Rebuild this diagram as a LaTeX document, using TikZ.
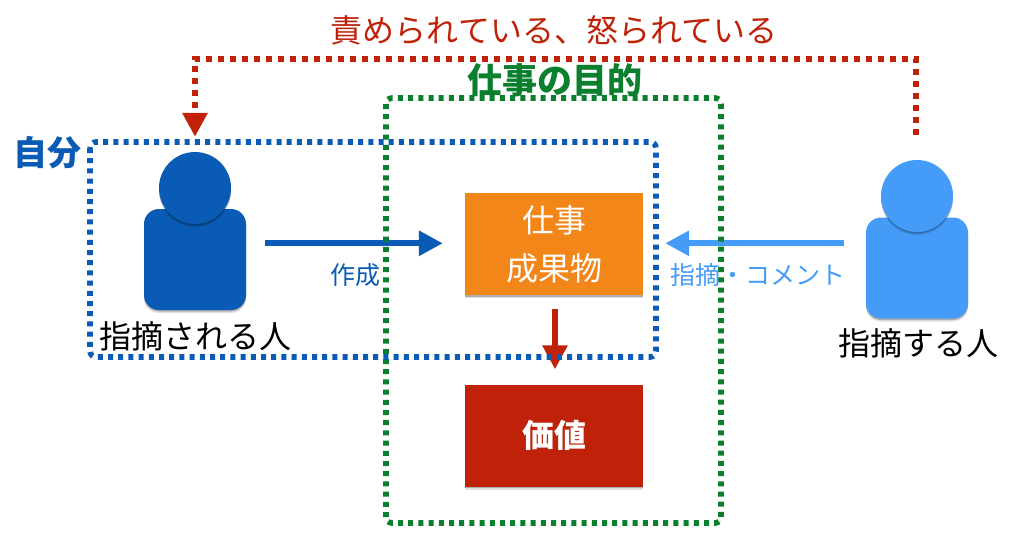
\documentclass[tikz,border=0pt]{standalone}
\usepackage{fontspec}
\usetikzlibrary{arrows.meta,shadows,positioning,calc}
\setmainfont{Noto Sans CJK JP}
\definecolor{cred}{HTML}{BF2209}
\definecolor{cblue}{HTML}{0A5BB5}
\definecolor{clight}{HTML}{459CF8}
\definecolor{cgreen}{HTML}{0A7F2E}
\definecolor{corange}{HTML}{F28618}
\newcommand{\fs}[1]{\fontsize{#1}{#1}\selectfont}
\tikzset{
  softshadow/.style={
    drop shadow={shadow xshift=0pt,shadow yshift=-3pt,opacity=.12,fill=black},
    drop shadow={shadow xshift=0pt,shadow yshift=-1.5pt,opacity=.22,fill=black}},
  workbox/.style={rectangle,minimum width=178pt,minimum height=102pt,inner sep=0pt,text=white,align=center,softshadow},
  personbody/.style={rectangle,rounded corners=15pt,minimum width=102pt,minimum height=101pt,inner sep=0pt,softshadow},
  personhead/.style={circle,minimum size=72pt,inner sep=0pt,softshadow},
  flow/.style={line width=6pt,-{Triangle[length=24pt,width=24pt]}},
  dotbox/.style={line width=5.6pt,rounded corners=6pt,dash pattern=on 5pt off 5.2pt,
    preaction={draw=black,draw opacity=.10,transform canvas={yshift=-2.5pt}}},
  lbl/.style={inner sep=0pt},
}
\begin{document}
\begin{tikzpicture}[x=1pt,y=-1pt]
\useasboundingbox (0,0) rectangle (1024,544);
% persons
\node[personbody,fill=cblue] (bodyA) at (195,259.5) {};
\node[personhead,fill=cblue] (headA) at (195,188) {};
\node[personbody,fill=clight] (bodyB) at (917,268) {};
\node[personhead,fill=clight] (headB) at (917,196) {};
% boxes
\node[workbox,fill=corange,font=\fontsize{32}{48}\selectfont] (work) at (554,244) {仕事\\成果物};
\node[workbox,fill=cred,font=\bfseries\fs{32}] (value) at (554,435.5) {価値};
% arrows
\draw[flow,cblue,shorten <=19pt,shorten >=22pt,transform canvas={yshift=.7pt}] (bodyA.east |- work.west) -- (work.west);
\draw[flow,clight,shorten <=22pt,shorten >=22pt,transform canvas={yshift=.7pt}] (bodyB.west |- work.east) -- (work.east);
\draw[flow,cred,shorten <=14pt,shorten >=15pt,transform canvas={xshift=1pt}] (work.south) -- (value.north);
% feedback connector
\coordinate (cornerB) at (916,59);
\coordinate (cornerA) at (195,59);
\coordinate (startB) at (916,160);
\draw[cred,line width=6pt,dash pattern=on 6pt off 6pt,shorten <=25pt,shorten >=15pt,
  -{Triangle[length=24pt,width=24pt]}] (startB) -- (cornerB) -- (cornerA) -- (headA.north);
% frames
\draw[dotbox,cgreen] (386,98) rectangle (721,523);
\coordinate (frameTL) at (90,142);
\coordinate (frameBR) at (656,357);
\draw[dotbox,cblue] (frameTL) rectangle (frameBR);
% labels
\node[lbl,text=cred,font=\fs{32}] (fb) at (554,30) {責められている、怒られている};
\node[lbl,text=cgreen,font=\bfseries\fs{35}] (purpose) at (554.5,80) {仕事の目的};
\node[lbl,text=cblue,font=\bfseries\fs{34}] (self) at (47,153) {自分};
\node[lbl,text=cblue,font=\fs{25}] (make) at (355,275) {作成};
\node[lbl,text=clight,font=\fs{25}] (comment) at (757.5,275) {指摘・コメント};
\node[lbl,text=black,font=\fs{32}] (nameA) at (195,336) {指摘される人};
\node[lbl,text=black,font=\fs{32}] (nameB) at (918,343) {指摘する人};
\end{tikzpicture}
\end{document}
